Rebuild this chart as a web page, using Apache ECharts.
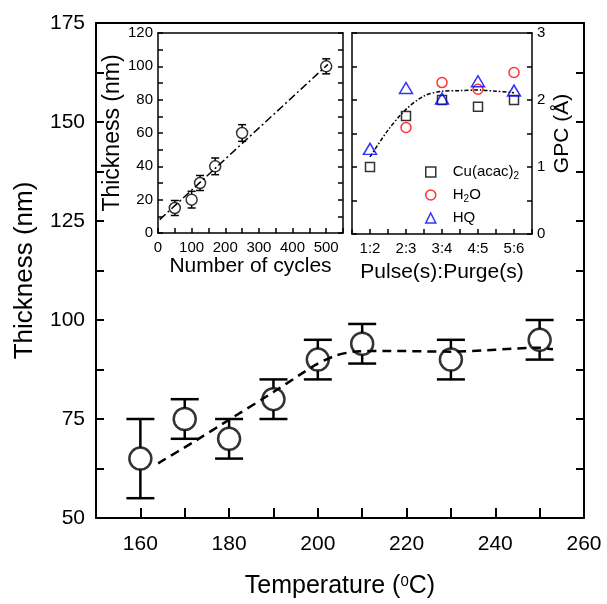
<!DOCTYPE html>
<html>
<head>
<meta charset="utf-8">
<script src="https://cdn.jsdelivr.net/npm/echarts@6/dist/echarts.min.js"></script>
<style>
html, body { margin: 0; padding: 0; background: #fff; }
#chart { width: 607px; height: 604px; }
</style>
</head>
<body>
<div id="chart"></div>
<script>
// main panel: thickness against deposition temperature
const temperature = [160, 170, 180, 190, 200, 210, 230, 250];
const thickness = [65, 75, 70, 80, 90, 94, 90, 95];
const thicknessErr = [10, 5, 5, 5, 5, 5, 5, 5];
const tempFit = [[164, 63.8], [172, 69.2], [180, 74.8], [190, 81.8], [196, 86.2], [200, 89],
                 [204, 91], [208, 92], [215, 92.2], [230, 92], [250, 93], [253, 92.6]];

// inset 1: thickness against number of cycles
const cycles = [50, 100, 125, 170, 250, 500];
const cycleThickness = [15, 20, 30, 40, 60, 100];
const cycleErr = [4.5, 5, 4.5, 5, 5, 4.5];
const cycleFit = [[5, 8], [505, 101.2]];

// inset 2: GPC against pulse:purge
const ratios = ['1:2', '2:3', '3:4', '4:5', '5:6'];
const gpcCu = [1.0, 1.76, 2.0, 1.9, 2.0];
const gpcH2O = [null, 1.59, 2.26, 2.16, 2.41];
const gpcHQ = [1.27, 2.18, 2.02, 2.28, 2.14];
const gpcFit = [[1, 1.15], [1.5, 1.55], [2, 1.86], [2.5, 2.06], [3, 2.13], [3.5, 2.14],
                [4, 2.15], [4.5, 2.13], [5, 2.11]];

const FONT = 'Liberation Sans';

function errData(xs, ys, errs) {
	return xs.map((x, i) => [x, ys[i], ys[i] - errs[i], ys[i] + errs[i]]);
}

// error bar with caps, broken where the marker sits
function errRender(cap, r, lw) {
	return function (params, api) {
		const x = api.value(0);
		const c = api.coord([x, api.value(1)]);
		const lo = api.coord([x, api.value(2)]);
		const hi = api.coord([x, api.value(3)]);
		const style = { stroke: '#000', lineWidth: lw };
		const ln = (x1, y1, x2, y2) => ({ type: 'line', shape: { x1, y1, x2, y2 }, style });
		return {
			type: 'group',
			children: [
				ln(c[0], hi[1], c[0], c[1] - r),
				ln(c[0], c[1] + r, c[0], lo[1]),
				ln(c[0] - cap / 2, hi[1], c[0] + cap / 2, hi[1]),
				ln(c[0] - cap / 2, lo[1], c[0] + cap / 2, lo[1])
			]
		};
	};
}

function axis(o) {
	const a = {
		type: 'value',
		min: o.min, max: o.max, interval: o.interval,
		gridIndex: o.grid,
		position: o.position,
		axisLine: { show: true, onZero: false, lineStyle: { color: '#000', width: o.lw } },
		axisTick: { show: o.ticks !== false, inside: true, length: o.tickLen || 6, lineStyle: { color: '#000', width: o.lw } },
		splitLine: { show: false },
		axisLabel: { show: !!o.labels, fontFamily: FONT, fontSize: o.fontSize, color: '#000', margin: o.margin || 8,
			formatter: o.labels || '' }
	};
	if (o.name) {
		a.name = o.name;
		a.nameLocation = 'middle';
		a.nameGap = o.nameGap;
		if (o.nameRotate) a.nameRotate = o.nameRotate;
		a.nameTextStyle = { fontFamily: FONT, fontSize: o.nameSize, color: '#000',
			rich: { sup: { fontFamily: FONT, fontSize: 15, color: '#000', verticalAlign: 'top', lineHeight: 14 } } };
	}
	return a;
}

const chart = echarts.init(document.getElementById('chart'));

chart.setOption({
	animation: false,
	backgroundColor: '#fff',
	grid: [
		{ left: 96, top: 23, width: 488, height: 497 },
		{ left: 158, top: 33, width: 185, height: 200 },
		{ left: 352, top: 33, width: 180, height: 201 }
	],
	xAxis: [
		axis({ grid: 0, position: 'bottom', min: 150, max: 260, interval: 10, lw: 2, tickLen: 10, fontSize: 21, margin: 16,
			labels: v => (v % 20 === 0 && v > 150) ? String(v) : '',
			name: 'Temperature ({sup|0}C)', nameGap: 56, nameSize: 25 }),
		axis({ grid: 0, position: 'top', min: 150, max: 260, interval: 10, lw: 2, ticks: false }),
		axis({ grid: 1, position: 'bottom', min: 0, max: 550, interval: 50, lw: 1.5, tickLen: 5, fontSize: 15, margin: 7,
			labels: v => (v % 100 === 0) ? String(v) : '',
			name: 'Number of cycles', nameGap: 22, nameSize: 21 }),
		axis({ grid: 1, position: 'top', min: 0, max: 550, interval: 50, lw: 1.5, ticks: false }),
		axis({ grid: 2, position: 'bottom', min: 0.5, max: 5.5, interval: 0.5, lw: 1.5, tickLen: 5, fontSize: 15, margin: 7,
			labels: v => Number.isInteger(v) ? ratios[v - 1] : '',
			name: 'Pulse(s):Purge(s)', nameGap: 28, nameSize: 21 }),
		axis({ grid: 2, position: 'top', min: 0.5, max: 5.5, interval: 0.5, lw: 1.5, ticks: false })
	],
	yAxis: [
		axis({ grid: 0, position: 'left', min: 50, max: 175, interval: 12.5, lw: 2, tickLen: 8, fontSize: 21, margin: 11,
			labels: v => (v % 25 === 0) ? String(v) : '',
			name: 'Thickness (nm)', nameGap: 58, nameSize: 26, nameRotate: 90 }),
		axis({ grid: 0, position: 'right', min: 50, max: 175, interval: 12.5, lw: 2, tickLen: 8 }),
		axis({ grid: 1, position: 'left', min: 0, max: 120, interval: 10, lw: 1.5, tickLen: 5, fontSize: 15, margin: 5,
			labels: v => (v % 20 === 0) ? String(v) : '',
			name: 'Thickness (nm)', nameGap: 28, nameSize: 23, nameRotate: 90 }),
		axis({ grid: 1, position: 'right', min: 0, max: 120, interval: 10, lw: 1.5, tickLen: 5 }),
		axis({ grid: 2, position: 'left', min: 0, max: 3, interval: 0.5, lw: 1.5, tickLen: 5 }),
		axis({ grid: 2, position: 'right', min: 0, max: 3, interval: 0.5, lw: 1.5, tickLen: 5, fontSize: 15, margin: 5,
			labels: v => Number.isInteger(v) ? String(v) : '',
			name: 'GPC (Å)', nameGap: 20, nameSize: 21, nameRotate: 90 })
	],
	legend: {
		orient: 'vertical',
		left: 420,
		top: 158,
		itemWidth: 10,
		itemHeight: 10,
		itemGap: 5,
		symbolKeepAspect: true,
		data: ['Cu(acac)2', 'H2O', 'HQ'],
		itemStyle: { borderWidth: 1.5 },
		formatter: n => n === 'Cu(acac)2' ? 'Cu(acac){sub|2}' : n === 'H2O' ? 'H{sub|2}O' : n,
		textStyle: {
			fontFamily: FONT, fontSize: 15, color: '#000', lineHeight: 18, padding: [0, 0, 0, 12],
			rich: { sub: { fontFamily: FONT, fontSize: 10, color: '#000', verticalAlign: 'bottom', lineHeight: 8 } }
		}
	},
	series: [
		// main panel
		{
			type: 'line', xAxisIndex: 0, yAxisIndex: 0, data: tempFit, smooth: 0.2, symbol: 'none',
			lineStyle: { color: '#000', width: 2.5, type: [9, 6] }, z: 2
		},
		{
			type: 'custom', xAxisIndex: 0, yAxisIndex: 0, data: errData(temperature, thickness, thicknessErr),
			renderItem: errRender(28, 11, 2.5), z: 3
		},
		{
			type: 'scatter', xAxisIndex: 0, yAxisIndex: 0, data: temperature.map((t, i) => [t, thickness[i]]),
			symbol: 'circle', symbolSize: 22,
			itemStyle: { color: 'rgba(0,0,0,0)', borderColor: '#000', borderWidth: 2.5 }, z: 4
		},
		// inset 1
		{
			type: 'line', xAxisIndex: 2, yAxisIndex: 2, data: cycleFit, symbol: 'none',
			lineStyle: { color: '#000', width: 1.5, type: [8, 3, 2, 3] }, z: 2
		},
		{
			type: 'custom', xAxisIndex: 2, yAxisIndex: 2, data: errData(cycles, cycleThickness, cycleErr),
			renderItem: errRender(8, 5.5, 1.5), z: 3
		},
		{
			type: 'scatter', xAxisIndex: 2, yAxisIndex: 2, data: cycles.map((c, i) => [c, cycleThickness[i]]),
			symbol: 'circle', symbolSize: 11,
			itemStyle: { color: 'rgba(0,0,0,0)', borderColor: '#000', borderWidth: 1.5 }, z: 4
		},
		// inset 2
		{
			type: 'line', xAxisIndex: 4, yAxisIndex: 4, data: gpcFit, smooth: 0.3, symbol: 'none',
			lineStyle: { color: '#000', width: 1.5, type: [4, 2, 1.5, 2] }, z: 2
		},
		{
			name: 'Cu(acac)2', type: 'scatter', xAxisIndex: 4, yAxisIndex: 4,
			data: gpcCu.map((g, i) => [i + 1, g]), symbol: 'rect', symbolSize: 9,
			itemStyle: { color: 'rgba(0,0,0,0)', borderColor: '#000', borderWidth: 1.5 }, z: 4
		},
		{
			name: 'H2O', type: 'scatter', xAxisIndex: 4, yAxisIndex: 4,
			data: gpcH2O.map((g, i) => [i + 1, g]).filter(d => d[1] !== null), symbol: 'circle', symbolSize: 10,
			itemStyle: { color: 'rgba(0,0,0,0)', borderColor: '#ff0000', borderWidth: 1.5 }, z: 4
		},
		{
			name: 'HQ', type: 'scatter', xAxisIndex: 4, yAxisIndex: 4,
			data: gpcHQ.map((g, i) => [i + 1, g]), symbol: 'triangle', symbolSize: [13, 11],
			itemStyle: { color: 'rgba(0,0,0,0)', borderColor: '#0000ff', borderWidth: 1.5 }, z: 4
		}
	]
});
</script>
</body>
</html>
